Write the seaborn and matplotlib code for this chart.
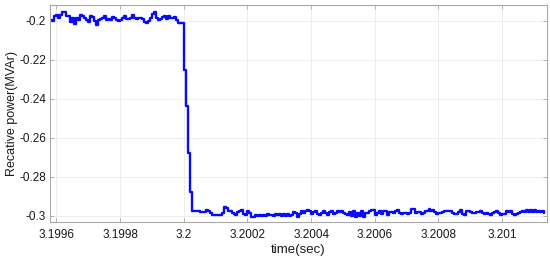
import numpy as np
import pandas as pd
import matplotlib
matplotlib.use("Agg")
import matplotlib.pyplot as plt
import seaborn as sns

# sampling grid: step of 6.25 microseconds around the switching instant t = 3.2 s
t_start = 3.2
dt = 6.25e-6
idx_first = -67

pre_values = [
    -0.1996, -0.2000, -0.1976, -0.1971, -0.1988, -0.1971, -0.1954, -0.1954, -0.1979, -0.1976,
    -0.2005, -0.1988, -0.2017, -0.1988, -0.1996, -0.1971, -0.1979, -0.1988, -0.1996, -0.2005,
    -0.1979, -0.1983, -0.2000, -0.2022, -0.1996, -0.1990, -0.1988, -0.1979, -0.1996, -0.1993,
    -0.1996, -0.1983, -0.1988, -0.1996, -0.2000, -0.1996, -0.1988, -0.1976, -0.1993, -0.1993,
    -0.1988, -0.1972, -0.1988, -0.1993, -0.1988, -0.1988, -0.1993, -0.2005, -0.2013, -0.2000,
    -0.1988, -0.1966, -0.1954, -0.1988, -0.1996, -0.1990, -0.1983, -0.1979, -0.1990, -0.1976,
    -0.1988, -0.1988, -0.1983, -0.1996, -0.2010, -0.2010, -0.2010,
]
drop_values = [-0.2253, -0.2437, -0.2680, -0.2877]
post_values_a = [
    -0.2974, -0.2976, -0.2978, -0.2976, -0.2979, -0.2981, -0.2981, -0.2972, -0.2974, -0.2986,
    -0.2995, -0.2998, -0.2998, -0.2995, -0.2995, -0.2986, -0.2957, -0.2961, -0.2974, -0.2978,
    -0.2986, -0.2991, -0.2995, -0.2981, -0.2974, -0.2971, -0.2991, -0.2998, -0.2978, -0.2986,
    -0.3008, -0.3007, -0.2998, -0.3003, -0.2995, -0.3002, -0.2995, -0.3003, -0.2991, -0.2998,
    -0.2995, -0.3000, -0.2991, -0.2998, -0.2990, -0.3000, -0.2991, -0.3003, -0.2990, -0.3003,
    -0.2995, -0.2981, -0.2986, -0.3005, -0.2991, -0.2978, -0.2986, -0.2974, -0.2969, -0.2978,
    -0.2991, -0.2981, -0.2974, -0.2991, -0.2998, -0.2986, -0.2974, -0.2986, -0.2998, -0.2981,
    -0.2978, -0.2991, -0.2984, -0.2978, -0.2981, -0.2974, -0.2984, -0.2991, -0.2995, -0.2981,
    -0.3003, -0.2978, -0.3008, -0.2986, -0.3003, -0.2978, -0.3008, -0.2986,
]
post_values_b = [
    -0.2986, -0.2978, -0.2969, -0.2971, -0.2995, -0.2986, -0.2974, -0.2991, -0.2974, -0.2978,
    -0.2995, -0.2981, -0.2981, -0.2986, -0.2974, -0.2969, -0.2986, -0.2991, -0.2988, -0.2986,
    -0.2991, -0.2988, -0.2964, -0.2967, -0.2986, -0.2981, -0.2981, -0.2991, -0.2986, -0.2974,
    -0.2978, -0.2964, -0.2978, -0.2971, -0.2981, -0.2991, -0.2988, -0.2984, -0.2981, -0.2978,
    -0.2978, -0.2974, -0.2978, -0.2984, -0.2990, -0.2991, -0.2981, -0.2969, -0.2991, -0.2995,
    -0.2974, -0.2974, -0.2981, -0.2984, -0.2986, -0.2981, -0.2981, -0.2978, -0.2988, -0.2991,
    -0.2986, -0.2990, -0.2995, -0.2988, -0.2981, -0.2974, -0.2988, -0.2995, -0.2991, -0.2990,
    -0.2978, -0.2981, -0.2978, -0.2991, -0.2998, -0.2990, -0.2984, -0.2979, -0.2974, -0.2981,
    -0.2972, -0.2979, -0.2972, -0.2979, -0.2972, -0.2979, -0.2974, -0.2981, -0.2976, -0.2984,
]

x_ticks = [3.1996, 3.1998, 3.2, 3.2002, 3.2004, 3.2006, 3.2008, 3.201]
x_tick_labels = ["3.1996", "3.1998", "3.2", "3.2002", "3.2004", "3.2006", "3.2008", "3.201"]
y_ticks = [-0.2, -0.22, -0.24, -0.26, -0.28, -0.3]
y_tick_labels = ["-0.2", "-0.22", "-0.24", "-0.26", "-0.28", "-0.3"]

values = pre_values + drop_values + post_values_a + post_values_b
time = t_start + np.arange(idx_first, idx_first + len(values)) * dt
df = pd.DataFrame({"time": time, "power": values})

sns.set_style("whitegrid")
plt.rcParams["font.family"] = ["Liberation Sans", "DejaVu Sans"]

fig = plt.figure(figsize=(5.5, 2.6), dpi=100)
ax = fig.add_axes([0.091, 0.146, 0.903, 0.835])
sns.lineplot(data=df, x="time", y="power", ax=ax, color="#0a0aff",
             linewidth=1.7, drawstyle="steps-post", estimator=None)

ax.set_xlim(3.19958, 3.20114)
ax.set_ylim(-0.3032, -0.192)
ax.set_xticks(x_ticks)
ax.set_xticklabels(x_tick_labels)
ax.set_yticks(y_ticks)
ax.set_yticklabels(y_tick_labels)
ax.set_xlabel("time(sec)", fontsize=9.5, color="#1a1a1a", labelpad=2)
ax.set_ylabel("Recative power(MVAr)", fontsize=9, color="#1a1a1a", labelpad=1)

ax.grid(True, color="#ededed", linewidth=0.7)
for s in ax.spines.values():
    s.set_visible(True)
    s.set_color("#a8a8a8")
    s.set_linewidth(0.8)
ax.tick_params(axis="both", which="both", direction="in", length=3, width=0.6,
               color="#a8a8a8", labelsize=8.5, labelcolor="#1a1a1a",
               top=True, right=True, bottom=True, left=True)
ax.tick_params(axis="x", pad=5)
ax.tick_params(axis="y", pad=3)

fig.savefig("out.png", dpi=100, facecolor="white")
